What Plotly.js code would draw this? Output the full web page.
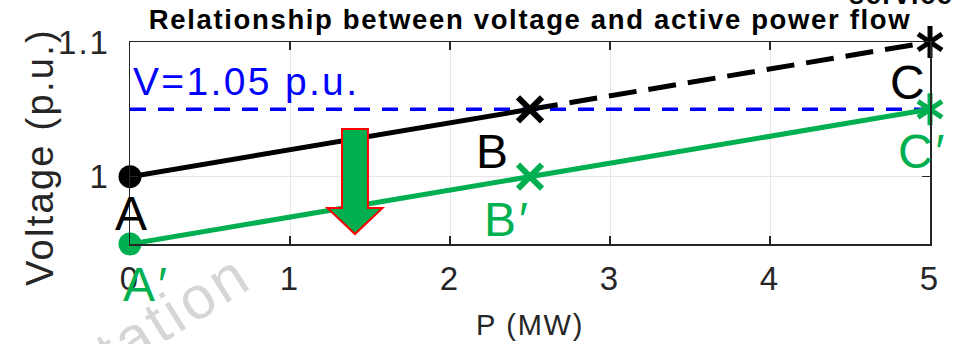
<!DOCTYPE html>
<html>
<head>
<meta charset="utf-8">
<script src="https://cdn.plot.ly/plotly-3.0.1.min.js"></script>
<style>
html,body{margin:0;padding:0;background:#fff;}
#chart{width:953px;height:344px;}
svg text{letter-spacing:0.06em;}
</style>
</head>
<body>
<div id="chart"></div>
<script>
// ---- data ----
const P_before = [0, 2.5];            // A -> B (existing, solid)
const V_before = [1.0, 1.05];
const P_extended = [2.5, 5];          // B -> C (dashed extension)
const V_extended = [1.05, 1.1];
const P_after = [0, 2.5, 5];          // A' -> B' -> C'
const V_after = [0.95, 1.0, 1.05];
const P_limit = [0, 5];
const V_limit = [1.05, 1.05];
const labels_before = ["A", "B", "C"];
const labels_after = ["A′", "B′", "C′"];
const limitLabel = "V=1.05 p.u.";
const xTickVals = [0, 1, 2, 3, 4, 5];
const yTickVals = [1, 1.1];
const yTickText = ["1", "1.1"];
const chartTitle = "Relationship between voltage and active power flow";
const xTitle = "P (MW)";
const yTitle = "Voltage (p.u.)";

// ---- styling ----
const FONT = "Liberation Sans, Arial, Helvetica, sans-serif";
const AX = "#262626";
const BLACK = "#000000";
const GREEN = "#00b050";
const BLUE = "#0000ff";

const P_all = [P_before[0], P_before[1], P_extended[1]];
const V_all = [V_before[0], V_before[1], V_extended[1]];

function openMarker(x, y, symbol, size, color, width) {
  return {x: [x], y: [y], mode: "markers", cliponaxis: false, hoverinfo: "skip",
    marker: {symbol: symbol, size: size, color: color, line: {color: color, width: width}}};
}

const traces = [
  {x: P_limit, y: V_limit, mode: "lines", line: {color: BLUE, width: 3.5, dash: "16px,12px"}, cliponaxis: false, hoverinfo: "skip"},
  {x: P_before, y: V_before, mode: "lines", line: {color: BLACK, width: 5}, cliponaxis: false},
  {x: P_extended, y: V_extended, mode: "lines", line: {color: BLACK, width: 5, dash: "28px,12px"}, cliponaxis: false},
  {x: P_after, y: V_after, mode: "lines", line: {color: GREEN, width: 5}, cliponaxis: false},
  {x: [P_all[0]], y: [V_all[0]], mode: "markers", marker: {symbol: "circle", size: 23, color: BLACK}, cliponaxis: false},
  {x: [P_after[0]], y: [V_after[0]], mode: "markers", marker: {symbol: "circle", size: 23, color: GREEN}, cliponaxis: false},
  openMarker(P_all[1], V_all[1], "x-thin-open", 24, BLACK, 6),
  openMarker(P_after[1], V_after[1], "x-thin-open", 24, GREEN, 6),
  openMarker(P_all[2], V_all[2], "y-up-open", 20, BLACK, 5),
  openMarker(P_all[2], V_all[2], "y-down-open", 20, BLACK, 5),
  openMarker(P_after[2], V_after[2], "y-up-open", 20, GREEN, 5),
  openMarker(P_after[2], V_after[2], "y-down-open", 20, GREEN, 5)
];

// label offsets (pixels)
const offBefore = [[2, -37], [-37, -42], [-21, -40]];
const offAfter = [[16, -40], [-23, -43], [-8, -42]];

const annotations = [];
labels_before.forEach((t, i) => annotations.push({
  x: P_all[i], y: V_all[i], xref: "x", yref: "y", text: t, showarrow: false,
  xanchor: "center", yanchor: "middle", xshift: offBefore[i][0], yshift: offBefore[i][1],
  font: {family: FONT, size: 48, color: BLACK}
}));
labels_after.forEach((t, i) => annotations.push({
  x: P_after[i], y: V_after[i], xref: "x", yref: "y", text: t, showarrow: false,
  xanchor: "center", yanchor: "middle", xshift: offAfter[i][0], yshift: offAfter[i][1],
  font: {family: FONT, size: 48, color: GREEN}
}));
annotations.push({
  x: P_limit[0], y: V_limit[0], xref: "x", yref: "y", text: limitLabel, showarrow: false,
  xanchor: "left", yanchor: "middle", xshift: 1, yshift: 28,
  font: {family: FONT, size: 39, color: BLUE}
});
// y-axis title
annotations.push({
  x: -0.1125, y: 0.4307, xref: "paper", yref: "paper", text: yTitle, showarrow: false,
  xanchor: "center", yanchor: "middle", textangle: -90,
  font: {family: FONT, size: 38, color: AX}
});
// clipped text at top right and watermark
annotations.push({
  x: 0.896, y: 1.0, xref: "paper", yref: "paper", text: "<b>service</b>", showarrow: false,
  xanchor: "left", yanchor: "bottom", yshift: 30,
  font: {family: FONT, size: 27, color: BLACK}
});
annotations.push({
  x: 0.054, y: -0.34, xref: "paper", yref: "paper", text: "tation", showarrow: false,
  xanchor: "center", yanchor: "middle", textangle: -32,
  font: {family: FONT, size: 60, color: "#d6d6d6"}
});

// down arrow (decoration) in data coordinates
const ARROW = {x: 1.406, top: 1.0354, headBase: 0.9767, tip: 0.9574, shaftHalf: 0.081, headHalf: 0.172};
const a = ARROW;
const arrowPath = `M${a.x - a.shaftHalf},${a.top} L${a.x + a.shaftHalf},${a.top} L${a.x + a.shaftHalf},${a.headBase} ` +
  `L${a.x + a.headHalf},${a.headBase} L${a.x},${a.tip} L${a.x - a.headHalf},${a.headBase} L${a.x - a.shaftHalf},${a.headBase} Z`;

const layout = {
  width: 953, height: 344,
  margin: {l: 130, r: 23, t: 42, b: 100, pad: 0},
  paper_bgcolor: "#ffffff", plot_bgcolor: "#ffffff",
  showlegend: false,
  font: {family: FONT, color: AX},
  title: {
    text: "<b>" + chartTitle + "</b>",
    font: {family: FONT, size: 27.5, color: BLACK},
    x: 0.5, xref: "paper", xanchor: "center",
    y: 1 - 19 / 344, yref: "container", yanchor: "middle"
  },
  xaxis: {
    range: [0, 5], tickvals: xTickVals, ticktext: xTickVals.map(String),
    showgrid: true, gridcolor: "#e6e6e6", gridwidth: 1, zeroline: false,
    showline: true, linecolor: AX, linewidth: 1.5, mirror: "ticks",
    ticks: "inside", ticklen: 8, tickwidth: 1.5, tickcolor: AX,
    tickfont: {family: FONT, size: 33, color: AX}, ticklabelstandoff: 5,
    title: {text: xTitle, font: {family: FONT, size: 29, color: AX}, standoff: 18},
    fixedrange: true
  },
  yaxis: {
    range: [0.95, 1.1], tickvals: yTickVals, ticktext: yTickText,
    showgrid: true, gridcolor: "#e6e6e6", gridwidth: 1, zeroline: false,
    showline: true, linecolor: AX, linewidth: 1.5, mirror: "ticks",
    ticks: "inside", ticklen: 8, tickwidth: 1.5, tickcolor: AX,
    tickfont: {family: FONT, size: 33, color: AX}, ticklabelstandoff: 12,
    fixedrange: true
  },
  shapes: [{
    type: "path", xref: "x", yref: "y", path: arrowPath, layer: "above",
    fillcolor: GREEN, line: {color: "#ff0000", width: 2}
  }],
  annotations: annotations
};

Plotly.newPlot("chart", traces, layout, {displayModeBar: false, staticPlot: true});
</script>
</body>
</html>
